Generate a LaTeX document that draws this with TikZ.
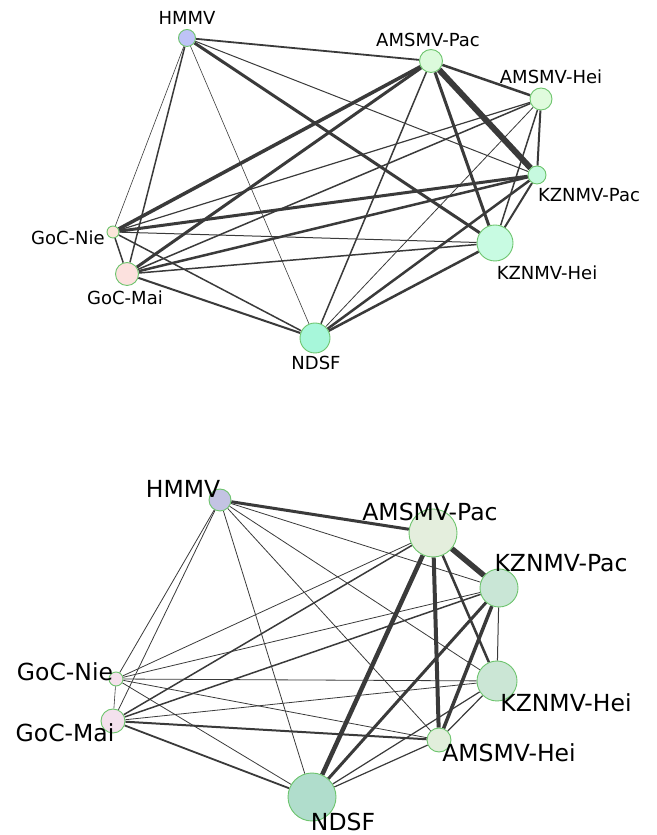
\documentclass[tikz,border=0pt]{standalone}
\usepackage{fontspec}
\setmainfont{DejaVu Sans}
\usetikzlibrary{backgrounds}

\definecolor{nodeline}{HTML}{6DC46D}
\definecolor{edgegray}{HTML}{3A3A3A}
% upper network
\definecolor{hmmvfill}{HTML}{BEC3F7}
\definecolor{amspacfill}{HTML}{DCFADC}
\definecolor{amsheifill}{HTML}{E0FBDD}
\definecolor{kznpacfill}{HTML}{C6F9DF}
\definecolor{kznheifill}{HTML}{C8FBE2}
\definecolor{gocniefill}{HTML}{FBE6DA}
\definecolor{gocmaifill}{HTML}{FCE1DE}
\definecolor{ndsffill}{HTML}{A7F7DA}
% lower network
\definecolor{hmmvfillb}{HTML}{C3C3E3}
\definecolor{amspacfillb}{HTML}{E4EEDD}
\definecolor{amsheifillb}{HTML}{E1EEDB}
\definecolor{kznpacfillb}{HTML}{C9E6D6}
\definecolor{kznheifillb}{HTML}{CBE6D5}
\definecolor{gocniefillb}{HTML}{F5E1EC}
\definecolor{gocmaifillb}{HTML}{F3E1ED}
\definecolor{ndsffillb}{HTML}{B0DDCC}

\begin{document}
\begin{tikzpicture}[x=1pt, y=1pt,
    vert/.style={circle, draw=nodeline, line width=0.9pt, inner sep=0pt},
    lbl/.style={inner sep=0pt, font=\fontsize{18}{21}\selectfont},
    lblbig/.style={inner sep=0pt, font=\fontsize{23.5}{27}\selectfont},
    edge/.style={draw=edgegray}]
    \useasboundingbox (0,0) rectangle (656,835);

    % upper network
    \node[vert, fill=hmmvfill, minimum size=17] (hmmv) at (187,797) {};
    \node[vert, fill=amspacfill, minimum size=23] (amspac) at (431,774) {};
    \node[vert, fill=amsheifill, minimum size=22] (amshei) at (541,736) {};
    \node[vert, fill=kznpacfill, minimum size=18] (kznpac) at (537,660) {};
    \node[vert, fill=kznheifill, minimum size=36] (kznhei) at (495,592) {};
    \node[vert, fill=gocniefill, minimum size=12] (gocnie) at (113,603) {};
    \node[vert, fill=gocmaifill, minimum size=23] (gocmai) at (127,561) {};
    \node[vert, fill=ndsffill, minimum size=30] (ndsf) at (315,497) {};

    \node[lbl] (hmmvl) at (187,817) {HMMV};
    \node[lbl] (amspacl) at (428,795) {AMSMV-Pac};
    \node[lbl] (amsheil) at (551,758) {AMSMV-Hei};
    \node[lbl] (kznpacl) at (589,640) {KZNMV-Pac};
    \node[lbl] (kznheil) at (547,562) {KZNMV-Hei};
    \node[lbl] (gocniel) at (68,597) {GoC-Nie};
    \node[lbl] (gocmail) at (125,537) {GoC-Mai};
    \node[lbl] (ndsfl) at (316,472) {NDSF};

    \begin{scope}[on background layer]
    \draw[edge, line width=1.8] (hmmv) -- (amspac);
    \draw[edge, line width=1.0] (hmmv) -- (kznpac);
    \draw[edge, line width=3.0] (hmmv) -- (kznhei);
    \draw[edge, line width=0.6] (hmmv) -- (ndsf);
    \draw[edge, line width=0.6] (hmmv) -- (gocnie);
    \draw[edge, line width=1.5] (hmmv) -- (gocmai);
    \draw[edge, line width=2.5] (amspac) -- (amshei);
    \draw[edge, line width=6.0] (amspac) -- (kznpac);
    \draw[edge, line width=3.0] (amspac) -- (kznhei);
    \draw[edge, line width=1.5] (amspac) -- (ndsf);
    \draw[edge, line width=3.5] (amspac) -- (gocnie);
    \draw[edge, line width=3.0] (amspac) -- (gocmai);
    \draw[edge, line width=2.0] (amshei) -- (kznpac);
    \draw[edge, line width=1.5] (amshei) -- (kznhei);
    \draw[edge, line width=0.8] (amshei) -- (ndsf);
    \draw[edge, line width=1.2] (amshei) -- (gocnie);
    \draw[edge, line width=1.5] (amshei) -- (gocmai);
    \draw[edge, line width=2.0] (kznpac) -- (kznhei);
    \draw[edge, line width=2.5] (kznpac) -- (ndsf);
    \draw[edge, line width=3.0] (kznpac) -- (gocnie);
    \draw[edge, line width=2.5] (kznpac) -- (gocmai);
    \draw[edge, line width=2.5] (kznhei) -- (ndsf);
    \draw[edge, line width=1.0] (kznhei) -- (gocnie);
    \draw[edge, line width=1.5] (kznhei) -- (gocmai);
    \draw[edge, line width=1.5] (ndsf) -- (gocnie);
    \draw[edge, line width=2.0] (ndsf) -- (gocmai);
    \draw[edge, line width=1.5] (gocnie) -- (gocmai);
    \end{scope}

    % lower network
    \node[vert, fill=hmmvfillb, minimum size=22] (hmmv2) at (220,335) {};
    \node[vert, fill=amspacfillb, minimum size=48] (amspac2) at (433,302) {};
    \node[vert, fill=kznpacfillb, minimum size=38] (kznpac2) at (499,247) {};
    \node[vert, fill=kznheifillb, minimum size=40] (kznhei2) at (497,154) {};
    \node[vert, fill=amsheifillb, minimum size=24] (amshei2) at (439,95) {};
    \node[vert, fill=gocniefillb, minimum size=14] (gocnie2) at (116,156) {};
    \node[vert, fill=gocmaifillb, minimum size=24] (gocmai2) at (113,114) {};
    \node[vert, fill=ndsffillb, minimum size=48] (ndsf2) at (312,38) {};

    \node[lblbig] (hmmvl2) at (183,346) {HMMV};
    \node[lblbig] (amspacl2) at (430,323) {AMSMV-Pac};
    \node[lblbig] (kznpacl2) at (561,272) {KZNMV-Pac};
    \node[lblbig] (kznheil2) at (566,132) {KZNMV-Hei};
    \node[lblbig] (amsheil2) at (509,82) {AMSMV-Hei};
    \node[lblbig] (gocniel2) at (65,163) {GoC-Nie};
    \node[lblbig] (gocmail2) at (65,102) {GoC-Mai};
    \node[lblbig] (ndsfl2) at (343,13) {NDSF};

    \begin{scope}[on background layer]
    \draw[edge, line width=3.0] (hmmv2) -- (amspac2);
    \draw[edge, line width=0.8] (hmmv2) -- (kznpac2);
    \draw[edge, line width=0.8] (hmmv2) -- (kznhei2);
    \draw[edge, line width=0.8] (hmmv2) -- (amshei2);
    \draw[edge, line width=0.8] (hmmv2) -- (ndsf2);
    \draw[edge, line width=0.8] (hmmv2) -- (gocnie2);
    \draw[edge, line width=0.8] (hmmv2) -- (gocmai2);
    \draw[edge, line width=5.5] (amspac2) -- (kznpac2);
    \draw[edge, line width=4.5] (amspac2) -- (ndsf2);
    \draw[edge, line width=4.0] (amspac2) -- (amshei2);
    \draw[edge, line width=2.5] (amspac2) -- (kznhei2);
    \draw[edge, line width=0.8] (amspac2) -- (gocnie2);
    \draw[edge, line width=1.5] (amspac2) -- (gocmai2);
    \draw[edge, line width=3.0] (kznpac2) -- (ndsf2);
    \draw[edge, line width=3.5] (kznpac2) -- (amshei2);
    \draw[edge, line width=1.0] (kznpac2) -- (kznhei2);
    \draw[edge, line width=0.8] (kznpac2) -- (gocnie2);
    \draw[edge, line width=1.5] (kznpac2) -- (gocmai2);
    \draw[edge, line width=1.2] (kznhei2) -- (amshei2);
    \draw[edge, line width=1.2] (kznhei2) -- (ndsf2);
    \draw[edge, line width=0.8] (kznhei2) -- (gocnie2);
    \draw[edge, line width=0.8] (kznhei2) -- (gocmai2);
    \draw[edge, line width=1.2] (amshei2) -- (ndsf2);
    \draw[edge, line width=0.8] (amshei2) -- (gocnie2);
    \draw[edge, line width=2.0] (amshei2) -- (gocmai2);
    \draw[edge, line width=0.8] (ndsf2) -- (gocnie2);
    \draw[edge, line width=1.8] (ndsf2) -- (gocmai2);
    \draw[edge, line width=0.6] (gocnie2) -- (gocmai2);
    \end{scope}
\end{tikzpicture}
\end{document}
